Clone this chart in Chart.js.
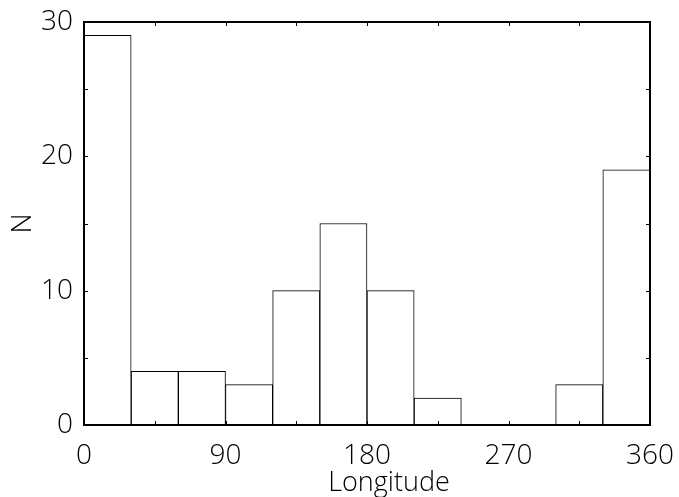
<!DOCTYPE html>
<html>
<head>
<meta charset="utf-8">
<script src="https://cdn.jsdelivr.net/npm/chart.js@4"></script>
<style>
  html, body { margin: 0; padding: 0; background: #fff; }
  #wrap { width: 679px; height: 497px; }
</style>
</head>
<body>
<div id="wrap"><canvas id="histChart" width="679" height="497"></canvas></div>
<script>
// histogram bins (30 deg wide), centre of each bin and counts
const binCenters = [15, 45, 75, 105, 135, 165, 195, 225, 255, 285, 315, 345];
const counts = [29, 4, 4, 3, 10, 15, 10, 2, 0, 0, 3, 19];
const xLabels = [0, 90, 180, 270, 360];
const yLabels = [0, 10, 20, 30];

const fontFamily = "'Open Sans', 'DejaVu Sans', sans-serif";

// frame, inward tick marks on all four sides, x title
const frameTicks = {
    id: 'frameTicks',
    afterDraw(chart) {
        const ctx = chart.ctx;
        const area = chart.chartArea;
        const xs = chart.scales.x;
        const ys = chart.scales.y;
        const len = 4;
        ctx.save();
        ctx.strokeStyle = '#000';
        ctx.lineWidth = 1;
        xs.ticks.forEach(t => {
            const px = Math.round(xs.getPixelForValue(t.value)) + 0.5;
            ctx.beginPath();
            ctx.moveTo(px, area.bottom); ctx.lineTo(px, area.bottom - len);
            ctx.moveTo(px, area.top); ctx.lineTo(px, area.top + len);
            ctx.stroke();
        });
        ys.ticks.forEach(t => {
            const py = Math.round(ys.getPixelForValue(t.value)) + 0.5;
            ctx.beginPath();
            ctx.moveTo(area.left, py); ctx.lineTo(area.left + len, py);
            ctx.moveTo(area.right, py); ctx.lineTo(area.right - len, py);
            ctx.stroke();
        });
        ctx.lineWidth = 2;
        ctx.strokeRect(area.left, area.top, area.right - area.left, area.bottom - area.top);

        // x axis title sits a bit right of centre in the original
        ctx.fillStyle = '#000';
        ctx.font = "300 27px " + fontFamily;
        ctx.textAlign = 'center';
        ctx.textBaseline = 'alphabetic';
        ctx.fillText("Longitude", (area.left + area.right) / 2 + 22, 491);
        ctx.restore();
    }
};

const ctx = document.getElementById("histChart").getContext("2d");
new Chart(ctx, {
    type: "bar",
    data: {
        datasets: [{
            data: binCenters.map((c, i) => ({ x: c, y: counts[i] })),
            backgroundColor: "#fff",
            borderColor: "#000",
            borderWidth: 1,
            barPercentage: 1,
            categoryPercentage: 1
        }]
    },
    options: {
        responsive: false,
        animation: false,
        layout: { padding: { top: 22, right: 29, left: 0, bottom: 0 } },
        plugins: { legend: { display: false }, tooltip: { enabled: false } },
        scales: {
            x: {
                type: "linear",
                min: 0,
                max: 360,
                offset: false,
                grid: { display: false, drawTicks: false },
                border: { display: false },
                afterFit: s => {
                    s.height = 72;
                    s.paddingLeft = 0;
                    s.paddingRight = 0;
                },
                ticks: {
                    stepSize: 45,
                    autoSkip: false,
                    maxRotation: 0,
                    padding: 14,
                    color: "#000",
                    font: { family: fontFamily, size: 28, weight: 300 },
                    callback: v => xLabels.includes(v) ? String(v) : ""
                }
            },
            y: {
                min: 0,
                max: 30,
                grid: { display: false, drawTicks: false },
                border: { display: false },
                afterFit: s => {
                    s.width = 84;
                    s.paddingTop = 0;
                    s.paddingBottom = 0;
                },
                ticks: {
                    stepSize: 5,
                    autoSkip: false,
                    padding: 11,
                    color: "#000",
                    font: { family: fontFamily, size: 28, weight: 300 },
                    callback: v => yLabels.includes(v) ? String(v) : ""
                },
                title: {
                    display: true,
                    text: "N",
                    color: "#000",
                    padding: { top: 6, bottom: 0 },
                    font: { family: fontFamily, size: 28, weight: 300 }
                }
            }
        }
    },
    plugins: [frameTicks]
});
</script>
</body>
</html>
